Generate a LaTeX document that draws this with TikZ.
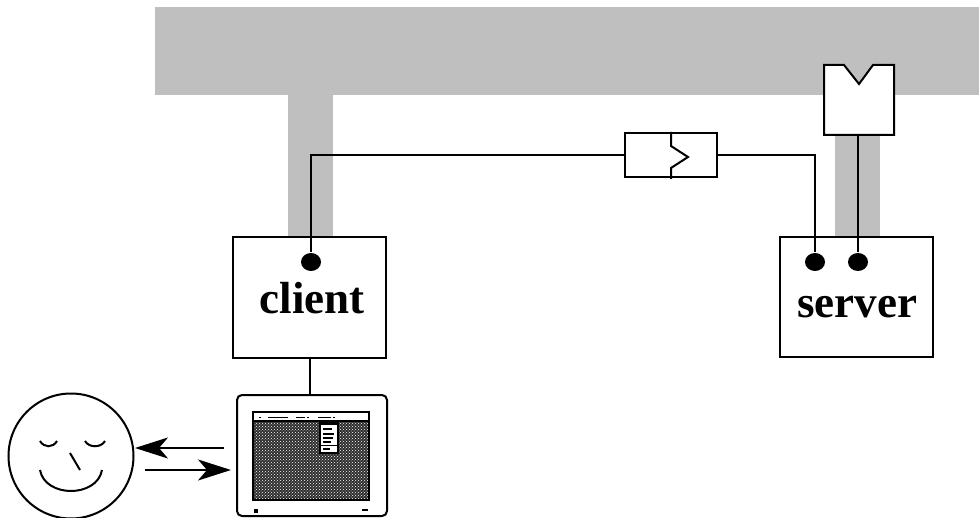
\documentclass[tikz,border=0pt]{standalone}
\usepackage{fontspec}
\setmainfont{Liberation Serif}
\usetikzlibrary{arrows.meta,calc,patterns,shapes.geometric}
\definecolor{busgray}{RGB}{191,191,191}
\begin{document}
\begin{tikzpicture}[x=1pt,y=-1pt,
  line width=2pt,
  box/.style={draw, fill=white, rectangle, inner sep=0pt},
  dot/.style={ellipse, fill, inner sep=0pt, minimum width=20pt, minimum height=18pt},
  lbl/.style={font=\fontsize{45}{50}\selectfont\bfseries, anchor=base, inner sep=0pt},
  arr/.style={-{Stealth[length=33pt,width=21pt,inset=9pt]}},
  tiny/.style={line width=1.6pt}]
\useasboundingbox (0,0) rectangle (979,518);

% shared bus and its two stems
\fill[busgray] (155,7) rectangle (979,95);
\fill[busgray] (288,95) rectangle (333,237);
\fill[busgray] (835,134) rectangle (880,237);

% client and server boxes
\node[box, minimum width=153pt, minimum height=121pt] (client) at (309.5,297.5) {};
\node[box, minimum width=153pt, minimum height=120pt] (server) at (856.5,297) {};
\node[lbl] (clientlbl) at (312,313) {client};
\node[lbl] (serverlbl) at (857,317) {server};

% attachment points
\node[dot] (cdot) at (311,262) {};
\node[dot] (sdotA) at (815,262) {};
\node[dot] (sdotB) at (858,262) {};

% filter element on the link
\node[box, minimum width=92pt, minimum height=44pt] (filter) at (671,155) {};
\draw (filter.north) -- ++(0,14) -- ++(17,11) -- ++(-17,11) -- ++(0,11);

% socket on the bus
\node[minimum width=68pt, minimum height=68pt, inner sep=0pt] (socket) at (859,100) {};
\draw[fill=white] (socket.north west) -- ++(20,0) -- ++(15,19) -- ++(14,-19)
  -- (socket.north east) -- (socket.south east) -- (socket.south west) -- cycle;

% wiring
\draw (cdot) |- (filter.west);
\draw (filter.east) -| (sdotA);
\draw (socket.south -| sdotB) -- (sdotB);

% terminal
\node[draw, rounded corners=5pt, minimum width=150pt, minimum height=121pt, inner sep=0pt]
  (monitor) at (312,455.5) {};
\draw (client.south) -- (client.south |- monitor.north);

\fill[black!82] (253,421) rectangle (369,500);
\fill[pattern=crosshatch dots, pattern color=white] (253,421) rectangle (369,500);
\draw (253,412) rectangle (369,500);
\draw (253,421) -- (369,421);
% menu bar entries
\begin{scope}[tiny]
  \draw (259,417.5) -- (261,417.5);
  \draw (268,417.5) -- (288,417.5);
  \draw (296,417.5) -- (305,417.5);
  \draw (307,417.5) -- (309,417.5);
  \draw (318,417.5) -- (331,417.5);
  \draw (332.5,417.5) -- (334.5,417.5);
  % pull-down menu
  \fill[white] (320,421) rectangle (338,453);
  \draw (320,421) rectangle (338,453);
  \fill (320,421) rectangle (338,425);
  \draw (323,429) -- (332,429);
  \draw (323,434) -- (334,434);
  \draw (323,438) -- (333,438);
  \draw (323,442) -- (331,442);
  \draw (320,445.5) -- (338,445.5);
  \draw (323,449) -- (330,449);
\end{scope}
\fill (254,509) rectangle (258,513);
\draw[tiny] (362,510) -- (368,510);

% user
\node[circle, draw, minimum size=125pt, inner sep=0pt] (face) at (71,456) {};
\draw (40,441) .. controls (44,448) and (53,448) .. (57,441);
\draw (85,441) .. controls (89,448) and (101,448) .. (105,441);
\draw (70,453) -- (80,470);
\draw (40,470) .. controls (45,498) and (97,498) .. (102,470);

% interaction arrows
\draw[arr] ($(monitor.west)+(-12,-7.5)$) -- ($(face.east)+(0.5,-8)$);
\draw[arr] ($(face.east)+(10.5,14)$) -- ($(monitor.west)+(-5,14.5)$);
\end{tikzpicture}
\end{document}
